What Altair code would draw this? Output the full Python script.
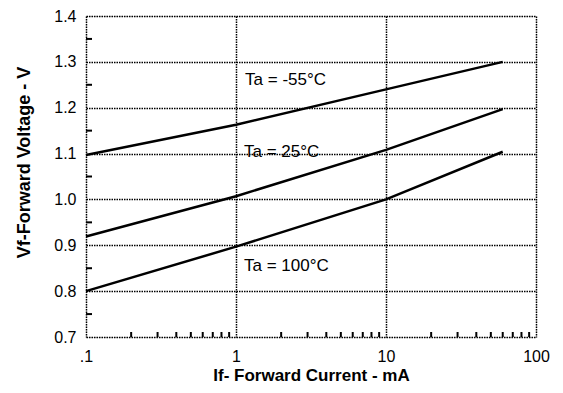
import altair as alt
import pandas as pd

# Data
series = ["Ta = -55°C", "Ta = 25°C", "Ta = 100°C"]
current_ma = [0.1, 1, 10, 60]
vf_m55 = [1.097, 1.163, 1.240, 1.300]
vf_25 = [0.919, 1.007, 1.108, 1.197]
vf_100 = [0.800, 0.897, 1.000, 1.104]

label_x = [1.15, 1.13, 1.13]
label_y = [1.261, 1.104, 0.855]

x_ticks = [0.1, 1, 10, 100]
y_ticks = [0.7, 0.8, 0.9, 1.0, 1.1, 1.2, 1.3, 1.4]
x_minor = [0.2, 0.3, 0.4, 0.5, 0.6, 0.7, 0.8, 0.9,
           2, 3, 4, 5, 6, 7, 8, 9,
           20, 30, 40, 50, 60, 70, 80, 90]
y_minor = [0.75, 0.85, 0.95, 1.05, 1.15, 1.25, 1.35]

rows = []
for name, vals in zip(series, [vf_m55, vf_25, vf_100]):
    for c, v in zip(current_ma, vals):
        rows.append({"series": name, "If": c, "Vf": v})
df = pd.DataFrame(rows)
labels = pd.DataFrame({"text": series, "x": label_x, "y": label_y})

FONT = "Liberation Sans"
xscale = alt.Scale(type="log", domain=[0.1, 100])
yscale = alt.Scale(domain=[0.7, 1.4])

xaxis = alt.Axis(values=x_ticks, title="If- Forward Current - mA",
                 labelExpr="datum.value == 0.1 ? '.1' : format(datum.value, 'd')",
                 grid=True, gridColor="black", gridDash=[1.5, 1], gridWidth=1.5,
                 ticks=False, domain=False, labelPadding=11,
                 labelFontSize=16, labelFont=FONT, labelColor="black",
                 titleFont=FONT, titleFontSize=17, titleFontWeight="bold",
                 titlePadding=3, titleColor="black", labelFlush=False)
yaxis = alt.Axis(values=y_ticks, title="Vf-Forward Voltage - V", format=".1f",
                 grid=True, gridColor="black", gridDash=[1.5, 1], gridWidth=1.5,
                 ticks=False, domain=False, labelPadding=10,
                 labelFontSize=16, labelFont=FONT, labelColor="black",
                 titleFont=FONT, titleFontSize=18, titleFontWeight="bold",
                 titlePadding=20, titleY=146, titleColor="black")

lines = alt.Chart(df).mark_line(color="black", strokeWidth=2.5).encode(
    x=alt.X("If:Q", scale=xscale, axis=xaxis),
    y=alt.Y("Vf:Q", scale=yscale, axis=yaxis),
    detail="series:N",
)

text = alt.Chart(labels).mark_text(align="left", baseline="middle", fontSize=17,
                                    font=FONT, color="black").encode(
    x=alt.X("x:Q", scale=xscale),
    y=alt.Y("y:Q", scale=yscale),
    text="text:N",
)

xm = alt.Chart(pd.DataFrame({"x": x_minor})).mark_rule(color="black", strokeWidth=2).encode(
    x=alt.X("x:Q", scale=xscale),
    y=alt.value(321), y2=alt.value(316),
)
ym = alt.Chart(pd.DataFrame({"y": y_minor})).mark_rule(color="black", strokeWidth=2).encode(
    y=alt.Y("y:Q", scale=yscale),
    x=alt.value(0), x2=alt.value(6),
)

chart = alt.layer(lines, xm, ym, text).properties(
    width=450, height=321,
    autosize=alt.AutoSizeParams(type="none"),
    padding={"left": 78, "top": 8, "right": 16, "bottom": 48},
).configure_view(stroke="black", strokeWidth=3).configure(background="white")

chart.save("out.html", embed_options={"renderer": "svg", "actions": False})
